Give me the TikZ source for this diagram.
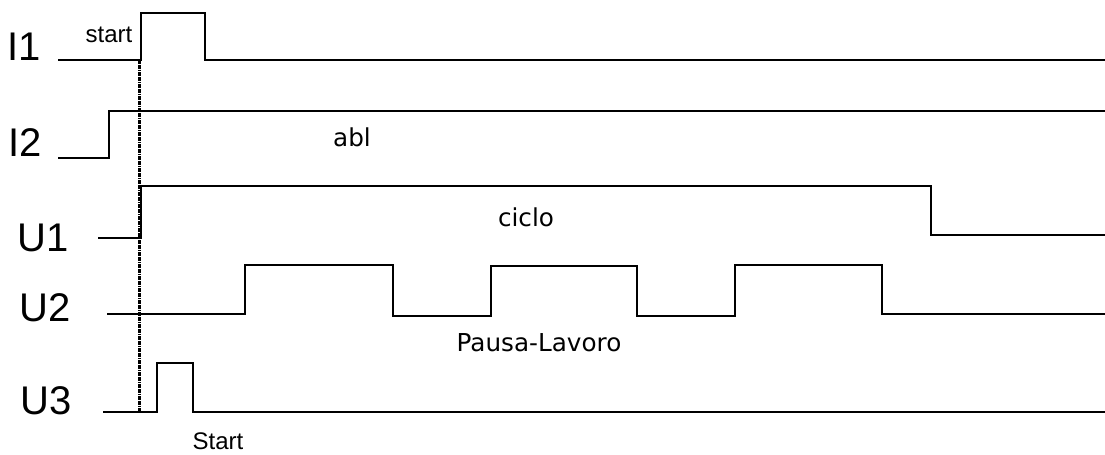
\documentclass[tikz,border=0pt]{standalone}
\usepackage{fontspec}
\setmainfont{Liberation Sans}
\newfontfamily\lblfont{DejaVu Sans}
\begin{document}
\begin{tikzpicture}[x=0.75pt,y=-0.75pt,
  wave/.style={line width=1.5pt,line join=miter},
  biglbl/.style={font=\fontsize{30}{30}\selectfont,inner sep=0pt},
  midlbl/.style={font=\lblfont\fontsize{18.5}{18.5}\selectfont,inner sep=0pt},
  smalllbl/.style={font=\fontsize{18}{18}\selectfont,inner sep=0pt}]
\useasboundingbox (0,0) rectangle (1105,454);
% signal names
\node[biglbl] (nI1) at (24,47) {I1};
\node[biglbl] (nI2) at (25,143) {I2};
\node[biglbl] (nU1) at (43,238) {U1};
\node[biglbl] (nU2) at (45,308) {U2};
\node[biglbl] (nU3) at (46,401) {U3};
% waveforms
\draw[wave] (58,60) -- (141,60) -- (141,13) -- (205,13) -- (205,60) -- (1105,60);
\draw[wave] (58,158) -- (109,158) -- (109,111) -- (1105,111);
\draw[wave] (98,238) -- (141,238) -- (141,186) -- (931,186) -- (931,235) -- (1105,235);
\draw[wave] (107,314) -- (245,314) -- (245,265) -- (393,265) -- (393,316) -- (491,316) -- (491,266)
  -- (637,266) -- (637,316) -- (735,316) -- (735,265) -- (882,265) -- (882,314) -- (1105,314);
\draw[wave] (103,412) -- (157,412) -- (157,363) -- (193,363) -- (193,412) -- (1105,412);
% dotted marker
\coordinate (mtop) at (139.5,60);
\coordinate (mbot) at (139.5,412);
\draw[line width=1.7pt,dash pattern=on 1.3pt off 0.5pt,black] (mtop) -- (mbot);
% annotations
\node[smalllbl] (tstart) at (109,35) {start};
\node[midlbl] (tabl) at (352,137) {abl};
\node[midlbl] (tciclo) at (526,217) {ciclo};
\node[midlbl] (tpausa) at (539,343) {Pausa-Lavoro};
\node[smalllbl] (tStart) at (218,441) {Start};
\end{tikzpicture}
\end{document}
